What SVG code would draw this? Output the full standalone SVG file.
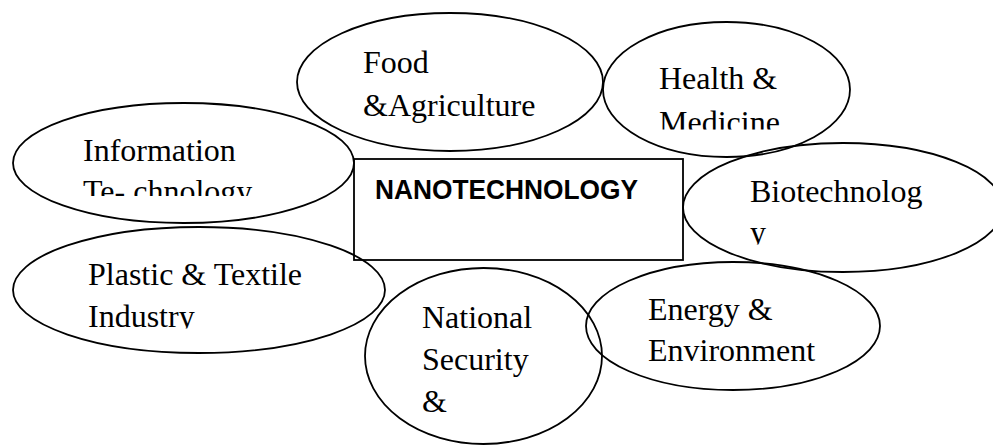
<svg xmlns="http://www.w3.org/2000/svg" width="993" height="446" viewBox="0 0 993 446">
<style>
.sh{fill:none;stroke:#000;stroke-width:1.8}
.t{font-family:"Liberation Serif","DejaVu Serif",serif;font-size:32px;fill:#000}
.b{font-family:"Liberation Sans",sans-serif;font-size:28px;font-weight:bold;fill:#000}
</style>
<defs>
<clipPath id="cInfo"><rect x="0" y="0" width="400" height="196"/></clipPath>
<clipPath id="cHealth"><rect x="590" y="0" width="300" height="129.5"/></clipPath>
<clipPath id="cBio"><rect x="680" y="130" width="313" height="114.5"/></clipPath>
<clipPath id="cPlastic"><rect x="0" y="220" width="400" height="108.5"/></clipPath>
</defs>
<rect width="993" height="446" fill="#fff"/>
<g id="center">
<rect class="sh" x="354" y="159" width="329" height="101"/>
<text class="b" x="375" y="199" textLength="263" lengthAdjust="spacingAndGlyphs">NANOTECHNOLOGY</text>
</g>
<g id="food">
<ellipse class="sh" cx="450" cy="82" rx="153" ry="69"/>
<text class="t" x="363" y="73">Food</text>
<text class="t" x="363" y="116">&amp;Agriculture</text>
</g>
<g id="health">
<ellipse class="sh" cx="726.5" cy="89.5" rx="123.5" ry="67.5"/>
<g clip-path="url(#cHealth)">
<text class="t" x="659" y="89">Health &amp;</text>
<text class="t" x="659" y="133">Medicine</text>
</g>
</g>
<g id="information">
<ellipse class="sh" cx="183.5" cy="163" rx="170.5" ry="60"/>
<g clip-path="url(#cInfo)">
<text class="t" x="83" y="161">Information</text>
<text class="t" x="83" y="202">Te- chnology</text>
</g>
</g>
<g id="biotech">
<ellipse class="sh" cx="843" cy="207.5" rx="160" ry="64.5"/>
<g clip-path="url(#cBio)">
<text class="t" x="750" y="202">Biotechnolog</text>
<text class="t" x="750" y="243">y</text>
</g>
</g>
<g id="plastic">
<ellipse class="sh" cx="199" cy="290" rx="186" ry="63"/>
<g clip-path="url(#cPlastic)">
<text class="t" x="88" y="285">Plastic &amp; Textile</text>
<text class="t" x="88" y="327">Industry</text>
</g>
</g>
<g id="national">
<ellipse class="sh" cx="483.5" cy="356" rx="118.5" ry="88"/>
<text class="t" x="422" y="328">National</text>
<text class="t" x="422" y="370">Security</text>
<text class="t" x="422" y="412">&amp;</text>
</g>
<g id="energy">
<ellipse class="sh" cx="733" cy="326" rx="147" ry="64"/>
<text class="t" x="648" y="320">Energy &amp;</text>
<text class="t" x="648" y="361">Environment</text>
</g>
<g id="connectors"></g>
</svg>
